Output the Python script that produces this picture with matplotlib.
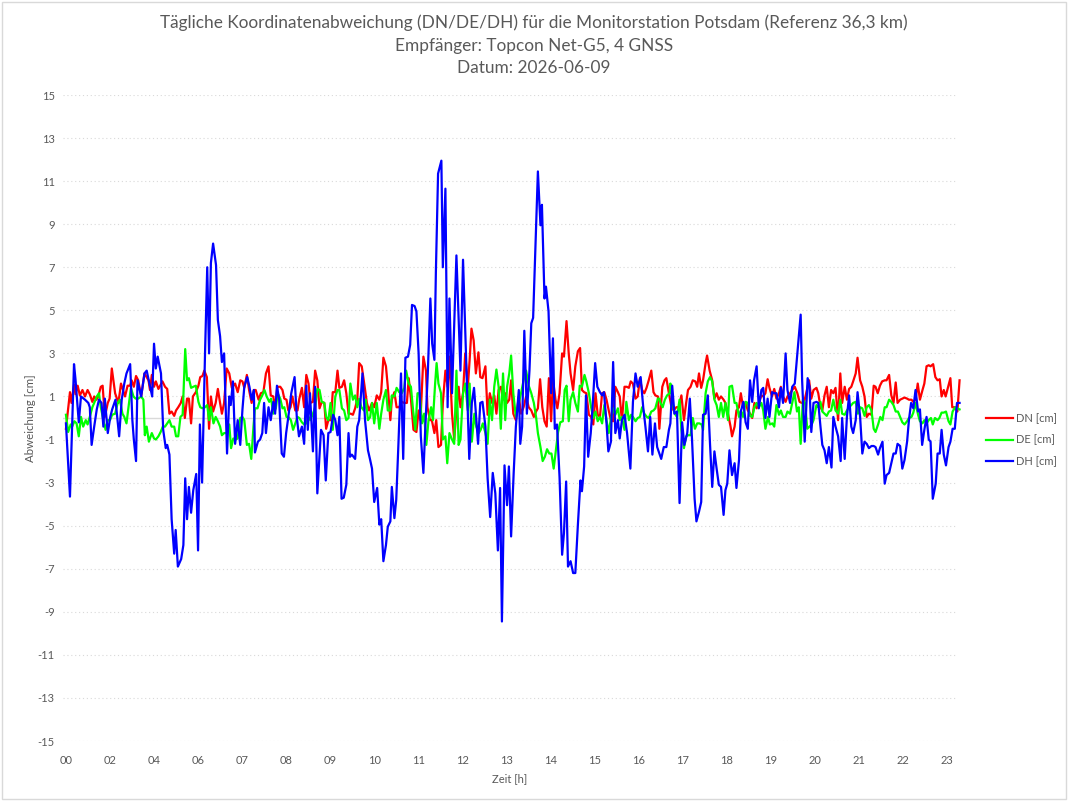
import matplotlib
matplotlib.use("Agg")
import matplotlib.pyplot as plt
import numpy as np

plt.rcParams['font.family'] = ['Lato', 'DejaVu Sans']

# x positions are in sample steps (12 steps per category label slot)
tick_labels = ['00', '02', '04', '06', '07', '08', '09', '10', '11', '12', '13',
               '14', '15', '16', '17', '18', '19', '20', '21', '22', '23']
tick_step = 12

DN = [(0.0,-0.5),(1.1,1.2),(1.5,0.7),(2.2,1.55),(2.6,1.1),(3.2,1.5),(3.8,1.05),(4.5,1.3),(5.2,1.0),(5.9,1.3),
      (6.5,1.1),(7.2,0.75),(7.7,1.0),(8.3,0.85),(8.8,1.0),(9.5,1.45),(10.0,1.5),(10.6,0.05),(11.4,0.7),(11.9,0.9),
      (12.5,2.3),(13.4,1.15),(14.3,0.7),(15.0,1.6),(16.1,1.0),(16.8,1.5),(17.5,1.5),(17.9,1.75),(18.5,1.45),(19.1,1.95),
      (19.7,1.75),(20.5,1.0),(21.4,2.07),(22.5,1.75),(22.9,1.3),(23.4,2.0),(24.0,1.45),(24.5,1.7),(25.2,1.35),(26.3,1.7),
      (27.0,1.45),(27.6,1.35),(28.2,0.2),(28.8,0.3),(29.5,0.1),(30.0,0.35),(30.6,0.5),(31.3,0.7),(31.8,1.0),(32.4,0.0),
      (33.0,0.9),(33.5,0.9),(34.1,-0.25),(34.6,1.0),(35.4,1.2),(36.1,1.5),(36.6,1.9),(37.2,1.95),(37.7,2.2),(38.4,1.9),
      (39.0,-0.5),
      (39.5,1.0),(40.1,0.3),(40.8,0.7),(41.4,1.35),(42.0,0.7),(42.5,0.2),(43.1,0.7),(43.8,2.3),(44.5,2.07),(45.2,1.4),
      (46.1,1.6),(46.8,1.2),(47.5,1.75),(48.1,1.7),(48.6,1.4),(49.3,2.0),(49.9,1.3),(50.6,0.7),(51.2,1.3),(51.7,1.3),
      (52.5,0.85),(53.1,1.15),(53.8,1.2),(54.5,2.07),(55.2,2.4),(55.8,1.05),(56.5,1.0),(57.0,0.45),(57.6,1.45),(58.4,1.45),
      (59.0,1.3),(59.5,0.9),(60.1,0.85),(60.6,0.35),(61.2,0.5),(61.7,1.0),(62.5,0.35),(63.1,0.35),(63.6,0.9),(64.3,1.4),
      (64.9,0.5),(65.5,2.0),(66.1,1.6),(66.6,0.7),(67.3,0.75),(67.9,2.2),(68.5,1.75),(69.1,0.45),(69.7,0.75),(70.4,0.7),
      (70.9,-0.5),(71.5,-0.1),(72.2,-0.1),(72.7,1.2),(73.4,1.2),(74.0,2.2),(74.5,1.4),(75.2,1.45),(75.8,1.75),(76.4,1.15),
      (77.0,0.2),(77.6,0.2),(78.2,0.15),(78.8,0.45),(79.4,0.9),(79.9,2.55),
      (80.6,2.4),(81.4,1.45),(82.0,0.7),(82.6,0.35),(83.4,0.7),(84.0,0.5),(84.7,1.05),(85.4,0.85),(85.9,1.2),(86.5,2.8),
      (87.2,2.4),(87.7,1.45),(88.4,-0.1),(88.8,0.85),(89.5,1.2),(90.1,0.5),(90.8,0.5),(91.5,0.75),(92.2,0.7),(92.9,0.7),
      (93.4,1.85),(94.0,0.9),(94.7,-0.55),(95.5,-0.65),(96.1,0.35),(96.6,-0.1),(97.4,2.85),(98.1,2.2),(98.5,0.5),(99.2,-0.1),
      (99.7,-0.1),(100.4,-0.7),(100.9,-0.1),(101.5,-1.35),(102.2,-1.25),(102.7,0.7),(103.4,2.2),(104.0,1.45),(104.5,2.85),(105.2,0.2),
      (105.8,-1.0),(106.4,0.35),(107.0,1.45),(107.5,0.5),(108.2,1.15),(108.8,3.0),(109.5,1.4),(110.0,2.7),(110.5,4.15),(111.1,3.6),
      (111.7,2.07),(112.4,3.05),(112.9,1.9),(113.5,1.85),(114.3,2.4),(114.9,0.15),(115.5,1.15),(116.1,0.7),(116.7,1.05),(117.3,0.2),
      (117.9,1.3),(118.5,1.45),(119.1,0.85),(119.7,1.15),
      (120.2,0.7),(120.8,0.85),(121.3,1.75),(121.9,0.2),(122.6,-0.1),(123.4,1.0),(124.0,0.2),(124.7,0.5),(125.4,1.0),(126.1,0.5),
      (126.8,0.35),(127.5,0.05),(128.1,0.3),(128.6,0.45),(129.2,1.8),(129.8,0.5),(130.4,-0.15),(131.0,-0.4),(131.6,1.85),(132.2,-0.15),
      (132.7,1.8),(133.4,0.85),(133.9,0.45),(134.5,1.15),(135.2,3.0),(135.7,2.85),(136.4,4.5),(137.0,3.0),(137.5,2.07),(138.2,1.3),
      (138.8,2.4),(139.5,3.1),(140.1,3.25),(140.6,1.3),(141.2,1.2),(141.8,1.15),(142.5,0.15),(143.1,0.05),(143.7,-0.3),(144.3,1.15),
      (144.9,0.15),(145.5,0.05),(146.1,1.15),(146.7,1.2),(147.3,0.85),(147.9,0.35),(148.5,-0.1),(149.1,-0.15),(149.7,1.45),(150.4,1.2),
      (150.9,1.0),(151.5,-0.15),(152.2,1.45),(152.8,1.45),(153.4,1.4),(153.9,1.7),(154.5,1.6),(155.2,0.9),(155.8,1.0),(156.4,1.85),
      (157.0,1.3),(157.6,1.15),(158.2,1.4),(158.8,1.75),(159.5,2.2),(160.1,1.2),(160.6,1.05),(161.3,1.0),(161.7,-0.5),
      (162.5,1.45),(163.1,1.75),(163.6,1.85),(164.3,1.15),(164.9,0.6),(165.6,0.35),(166.3,0.5),(167.0,0.5),(167.7,1.05),(168.4,-0.1),
      (169.0,0.7),(169.5,1.3),(170.2,1.45),(170.8,1.75),(171.5,1.7),(172.0,1.45),(172.5,2.07),(173.1,1.4),(173.6,1.75),(174.3,2.55),
      (174.7,2.9),(175.4,2.2),(176.1,1.75),(176.7,0.9),(177.3,1.15),(177.9,0.85),(178.5,1.0),(179.2,0.85),(179.7,0.7),(180.4,0.2),
      (181.1,-0.4),(181.5,-0.85),(182.2,-0.4),(182.7,0.35),(183.4,0.5),(183.9,1.15),(184.5,0.5),(185.2,0.7),(185.8,0.35),(186.4,0.2),
      (187.0,0.0),(187.6,0.7),(188.2,0.45),(188.8,0.7),(189.5,1.05),(190.0,1.0),(190.6,1.15),(191.2,1.8),(191.7,1.4),(192.4,1.0),
      (193.0,1.35),(193.6,0.9),(194.3,1.15),(194.8,1.45),(195.4,1.0),(196.1,0.75),(196.6,1.0),(197.3,1.15),(197.9,1.3),(198.6,1.45),
      (199.3,1.15),(199.9,0.75),(200.5,0.7),(201.1,0.7),(201.7,1.15),(202.5,1.75),
      (203.1,0.9),(203.7,1.3),(204.5,1.4),(205.0,1.15),(205.6,0.5),(206.1,0.35),(206.7,1.05),(207.3,1.45),(207.9,0.5),(208.5,1.3),
      (209.1,1.15),(209.7,1.4),(210.4,-0.1),(211.0,2.07),(211.5,0.7),(212.2,1.45),(212.8,0.85),(213.4,1.35),(214.0,1.45),(214.5,1.7),
      (215.2,2.07),(215.7,2.8),(216.4,1.75),(217.0,1.45),(217.6,1.0),(218.2,0.05),(218.8,0.2),(219.5,0.15),(220.1,1.5),(220.6,1.45),
      (221.2,1.15),(221.8,1.5),(222.4,1.7),(223.1,1.75),(223.6,1.75),(224.3,2.0),(224.9,1.05),(225.5,0.7),(226.1,1.65),(226.6,0.7),
      (227.3,0.85),(227.9,0.9),(228.5,0.95),(229.2,0.9),(229.7,0.85),(230.4,0.85),(230.9,0.75),(231.5,0.85),(232.1,1.6),(232.7,0.85),
      (233.4,1.3),(233.9,1.6),(234.5,2.4),(235.1,2.45),(235.6,2.4),(236.3,2.5),(236.9,1.9),(237.5,1.75),(238.1,1.8),(238.6,1.0),
      (239.2,1.3),(239.7,1.0),(240.4,1.45),(241.0,1.85),(241.5,0.5),(242.2,0.5),(242.9,0.3),(243.5,1.75)]

DE = [(0.0,0.15),(0.6,-0.65),(1.3,-0.3),(1.7,-0.4),(2.3,-0.15),(2.9,-0.25),(3.5,-0.85),(4.1,0.05),(4.7,-0.4),(5.4,-0.1),
      (5.9,-0.3),(6.5,0.05),(7.2,0.5),(7.7,0.7),(8.4,1.0),(9.0,1.15),(9.5,0.5),(10.2,-0.1),(10.8,-0.55),(11.4,-0.1),
      (12.0,-0.1),(12.6,0.15),(13.4,0.2),(14.1,0.7),(14.7,0.85),(15.4,0.2),(15.9,0.05),(16.5,-0.25),(17.2,0.7),(17.7,1.4),
      (18.4,1.0),(19.0,0.9),(19.7,0.9),(20.5,1.0),(21.1,0.85),(21.5,-0.8),(22.0,-0.4),(22.6,-1.1),(23.4,-0.7),(24.0,-0.95),
      (24.5,-1.0),(25.2,-0.85),(25.8,-0.65),(26.4,-0.4),(27.0,-0.4),(27.6,-0.25),(28.2,-0.1),(28.8,-0.4),(29.5,-0.4),(30.0,-0.85),
      (30.6,-0.85),(31.2,0.05),(31.8,0.15),(32.5,3.2),(33.0,1.75),(33.5,1.85),(34.1,1.4),(34.7,1.45),(35.4,1.5),(36.1,0.75),
      (36.6,0.5),(37.2,0.45),(37.9,0.5),(38.5,0.6),(39.0,-0.1),
      (39.5,0.5),(40.2,-0.25),(40.8,0.05),(41.4,-0.15),(42.0,-0.4),(42.5,-0.8),(43.1,-0.7),(43.8,-0.7),(44.5,-0.3),(45.0,-1.4),
      (45.6,-0.95),(46.3,-1.0),(46.8,-0.95),(47.5,0.0),(48.1,0.05),(48.6,-0.1),(49.3,-1.25),(49.9,-1.2),(50.5,-1.9),(51.1,-0.4),
      (51.5,0.45),(52.2,0.45),(52.9,0.85),(53.5,1.05),(54.1,1.3),(54.7,1.0),(55.4,0.75),(55.9,0.9),(56.5,0.2),(57.2,0.45),
      (57.7,1.15),(58.4,0.9),(59.0,0.45),(59.5,0.5),(60.1,0.05),(60.6,0.05),(61.3,-0.1),(61.9,-0.55),(62.5,-0.25),(63.1,0.05),
      (63.6,0.0),(64.3,-0.2),(64.9,-0.3),(65.5,-0.25),(66.1,0.05),(66.6,-0.1),(67.3,0.2),(67.9,0.5),(68.5,1.35),(69.1,1.3),
      (69.7,0.75),(70.4,0.7),(70.9,0.05),(71.5,-0.1),(72.1,0.7),(72.7,-0.55),(73.4,1.0),(74.0,1.3),(74.5,1.3),(75.2,0.45),
      (75.8,0.35),(76.4,-0.1),(77.0,0.0),(77.5,1.6),(78.2,0.85),(78.8,1.05),(79.4,0.5),(79.9,0.9),
      (80.5,0.5),(81.2,0.35),(81.7,0.85),(82.3,-0.1),(82.9,0.05),(83.4,0.7),(84.0,-0.25),(84.7,0.7),(85.4,-0.5),(85.9,0.2),
      (86.5,0.85),(87.2,1.3),(87.7,0.35),(88.4,0.35),(88.8,1.05),(89.5,1.0),(90.1,1.4),(90.8,1.2),(91.5,1.15),(92.2,1.4),
      (92.7,2.2),(93.4,1.6),(94.0,1.45),(94.6,0.35),(95.2,-0.55),(95.8,1.15),(96.4,1.15),(97.0,-0.25),(97.6,0.2),(98.2,-1.25),
      (98.8,-0.1),(99.5,0.5),(100.0,-0.1),(100.6,1.6),(101.0,2.55),(101.5,1.6),(102.2,1.15),(102.7,-1.0),(103.4,-0.85),(103.9,-2.1),
      (104.5,-0.7),(105.2,-1.0),(105.8,-1.2),(106.4,2.2),(107.0,-1.25),(107.5,-1.0),(108.2,1.15),(108.8,1.6),(109.5,0.35),(110.0,1.6),
      (110.6,-1.1),(111.3,0.2),(111.8,-0.4),(112.5,-0.7),(113.0,-0.55),(113.6,-0.25),(114.3,-0.7),(114.9,-1.2),(115.5,0.85),(116.1,-0.1),
      (116.7,1.45),(117.3,2.25),(117.9,1.45),(118.5,-0.5),(119.1,2.07),(119.7,-0.1),
      (120.2,1.45),(120.8,2.07),(121.3,2.9),(121.9,1.15),(122.6,0.05),(123.4,0.7),(124.0,1.15),(124.7,1.75),(125.4,2.2),(126.1,1.5),
      (126.8,1.15),(127.5,0.7),(128.1,0.05),(128.6,-0.7),(129.3,-1.35),(129.9,-2.0),(130.5,-1.8),(131.1,-1.45),(131.7,-1.65),(132.3,-1.65),
      (132.9,-2.35),(133.6,-1.35),(134.1,-0.65),(134.7,-0.2),(135.4,-0.15),(135.9,1.3),(136.4,1.5),(137.0,-0.15),(137.5,0.85),(138.2,1.2),
      (138.8,0.7),(139.5,0.3),(140.0,1.5),(140.6,1.45),(141.3,2.0),(141.8,1.7),(142.5,1.15),(143.1,0.5),(143.7,0.0),(144.3,0.3),
      (144.9,-0.15),(145.5,0.05),(146.1,-0.25),(146.7,0.6),(147.3,-0.1),(147.9,-0.7),(148.5,0.0),(149.2,0.45),(149.7,0.15),(150.4,0.45),
      (150.9,-0.1),(151.5,0.05),(152.2,-0.55),(152.7,0.75),(153.4,-0.1),(154.0,0.15),(154.5,0.05),(155.2,-0.15),(155.8,0.0),(156.4,0.05),
      (157.0,0.5),(157.6,0.2),(158.3,0.05),(158.8,0.0),(159.5,0.3),(160.1,0.35),(160.6,0.45),(161.3,0.9),(161.7,0.9),
      (162.0,0.7),(162.6,0.5),(163.2,0.85),(163.8,1.05),(164.5,1.15),(164.7,1.6),(165.4,0.6),(165.9,0.2),(166.5,0.05),(167.2,0.85),
      (167.7,-0.55),(168.4,-1.4),(169.0,-0.85),(169.5,-0.8),(170.2,-0.8),(170.8,0.0),(171.4,-0.5),(172.0,-0.25),(172.6,-0.25),(173.2,-0.3),
      (173.6,-0.55),(174.3,1.15),(174.9,1.7),(175.5,1.9),(176.1,1.7),(176.7,0.85),(177.3,0.6),(177.9,0.05),(178.5,0.7),(179.1,0.05),
      (179.7,0.7),(180.4,-0.1),(180.8,1.45),(181.5,1.5),(182.2,0.7),(182.7,0.7),(183.4,0.05),(183.9,0.35),(184.5,0.05),(185.2,0.75),
      (185.8,0.7),(186.4,0.1),(187.0,0.05),(187.6,0.5),(188.2,0.7),(188.8,0.5),(189.5,0.7),(190.0,0.35),(190.6,-0.5),(191.3,0.05),
      (191.8,-0.3),(192.5,-0.25),(193.0,-0.4),(193.6,0.6),(194.3,0.15),(194.8,0.35),(195.4,0.05),(196.1,0.05),(196.6,0.3),(197.3,0.2),
      (197.9,0.7),(198.5,1.2),(199.2,0.3),(199.7,0.5),(200.2,-1.2),(200.8,0.85),(201.4,0.7),(202.0,-0.5),(202.6,-0.4),
      (203.2,-0.3),(203.7,-0.1),(204.5,0.6),(205.0,0.5),(205.6,0.75),(206.1,0.3),(206.7,0.2),(207.3,0.1),(207.9,0.3),(208.5,0.35),
      (209.1,0.85),(209.7,0.35),(210.4,0.2),(211.0,0.85),(211.5,0.2),(212.2,0.15),(212.8,0.35),(213.4,0.5),(214.0,0.6),(214.5,0.7),
      (215.2,0.75),(215.8,0.2),(216.4,0.5),(217.0,0.45),(217.6,0.1),(218.2,0.5),(218.8,0.6),(219.5,0.35),(220.1,-0.5),(220.6,-0.65),
      (221.3,-0.3),(221.9,0.05),(222.5,-0.1),(223.1,0.5),(223.6,0.5),(224.3,0.85),(224.9,0.75),(225.5,0.6),(226.1,0.3),(226.7,0.3),
      (227.3,0.05),(227.9,-0.2),(228.5,-0.3),(229.2,-0.15),(229.7,0.0),(230.4,0.05),(230.9,0.25),(231.5,0.7),(232.2,0.15),(232.7,-0.15),
      (233.4,-0.25),(233.9,-0.1),(234.5,-0.25),(235.1,-0.1),(235.7,0.0),(236.2,-0.3),(236.8,0.0),(237.5,-0.1),(238.0,0.0),(238.6,0.25),
      (239.2,0.25),(239.8,0.3),(240.5,-0.15),(241.0,-0.3),(241.6,0.3),(242.3,0.5),(242.9,0.45),(243.5,0.4)]

DH = [(0.0,-0.25),(1.1,-3.65),(2.2,2.5),(2.6,1.8),(3.5,-0.2),(4.1,1.0),(5.2,0.85),(6.1,0.7),(6.5,0.5),(7.0,-1.25),
      (7.7,-0.4),(8.4,0.4),(9.0,0.85),(9.7,0.7),(10.2,-0.4),(10.6,0.9),(11.4,-0.7),(12.1,0.06),(12.6,0.4),(13.5,0.85),
      (14.5,-0.85),(15.2,0.85),(15.9,1.6),(16.5,2.07),(17.5,2.5),(18.1,-0.1),(18.5,-1.0),(19.1,-2.0),(19.5,1.75),(20.5,1.0),
      (21.4,2.07),(22.0,2.2),(23.5,1.0),(24.0,3.45),(24.5,2.3),(25.0,2.85),(25.9,2.07),(26.5,-0.55),(27.2,-1.4),(27.6,-1.25),
      (28.2,-1.7),(28.8,-4.7),(29.5,-6.3),(29.9,-5.2),(30.5,-6.9),(31.4,-6.55),(32.0,-5.9),(32.5,-2.8),(33.0,-4.7),(33.5,-3.2),
      (34.1,-4.4),(34.7,-3.35),(35.5,-2.6),(36.0,-6.15),(36.5,-0.3),(37.1,-3.0),(37.9,3.0),(38.5,7.0),(39.0,3.0),
      (39.5,7.2),(40.1,8.1),(40.9,7.1),(41.4,4.55),(42.0,3.8),(42.5,2.6),(43.1,3.0),(43.9,-1.65),(44.5,1.0),(44.9,0.6),
      (45.5,1.7),(46.1,-1.2),(46.8,-0.1),(47.5,-1.25),(48.1,0.4),(48.6,1.45),(49.4,1.9),(50.0,1.45),(50.6,0.85),(51.2,1.3),
      (51.5,-1.6),(52.3,-1.1),(52.9,-1.0),(53.5,-0.7),(54.0,0.7),(54.5,-0.7),(55.2,0.5),(55.8,-0.1),(56.5,0.75),(57.0,0.2),
      (57.5,1.5),(58.1,0.85),(58.8,-1.65),(59.4,-1.8),(60.0,-0.7),(60.6,0.05),(61.4,1.15),(62.3,1.9),(62.9,0.05),(63.5,-0.85),
      (64.3,-0.4),(64.9,-1.2),(65.5,1.5),(65.9,-0.55),(66.5,1.15),(67.3,-1.55),(67.9,1.45),(68.5,-3.5),(69.5,-0.55),(70.2,-0.8),
      (70.8,-2.9),(71.5,-0.7),(72.1,-0.65),(72.8,0.15),(73.4,-0.1),(74.0,-0.8),(74.5,0.05),(75.1,-3.75),(75.7,-3.7),(76.4,-3.1),
      (77.0,-0.7),(77.4,-1.8),(77.9,-1.7),(78.8,-1.9),(79.4,-0.4),(79.9,-0.1),
      (80.8,2.07),(81.5,-0.1),(82.3,-1.5),(82.9,-1.95),(83.4,-2.35),(84.0,-3.9),(84.8,-3.25),(85.4,-4.95),(85.9,-4.7),(86.5,-6.65),
      (87.2,-5.9),(87.7,-5.05),(88.4,-4.8),(88.8,-3.2),(89.5,-4.65),(90.0,-3.8),(90.6,-1.2),(91.3,2.07),(91.9,-1.9),(92.5,2.8),
      (93.2,2.85),(93.8,3.4),(94.3,5.25),(95.0,5.2),(95.5,4.95),(96.1,3.0),(96.7,-0.85),(97.4,-2.55),(97.9,-0.55),(98.6,2.07),
      (99.3,5.55),(99.8,3.45),(100.4,2.7),(100.8,6.75),(101.4,11.35),(102.3,11.95),(102.7,7.0),(103.4,10.65),(104.0,0.5),(104.5,5.55),
      (105.2,1.15),(106.4,7.55),(107.5,2.2),(108.2,7.35),(109.3,1.45),(109.9,-1.9),(110.6,0.7),(111.2,1.4),(111.7,0.2),(112.3,-1.2),
      (112.9,0.7),(113.5,0.75),(114.3,-0.4),(114.9,-2.8),(115.6,-4.6),(116.3,-2.55),(117.0,-3.5),(117.7,-6.15),(118.3,-3.25),(118.8,-9.45),
      (119.5,-2.2),(120.2,-4.05),(120.7,-2.25),
      (121.3,-5.5),(122.0,-2.55),(122.6,-0.4),(123.4,1.3),(123.8,-1.2),(124.3,-0.4),(124.9,4.05),(125.6,0.2),(126.3,2.2),(126.8,4.4),
      (127.3,4.65),(127.9,7.8),(128.6,11.45),(129.3,8.95),(129.7,9.9),(130.4,5.55),(130.8,6.1),(131.5,4.95),(132.2,1.15),(132.7,3.7),
      (133.2,-0.5),(133.8,-0.3),(134.5,-2.75),(135.2,-6.35),(135.7,-5.35),(136.3,-2.95),(136.8,-6.9),(137.5,-6.65),(138.2,-7.2),(138.8,-7.2),
      (139.5,-4.95),(140.2,-2.9),(140.6,-3.4),(141.2,-2.25),(141.7,1.05),(142.3,-1.8),(143.0,-0.7),(143.5,0.5),(144.2,2.55),(144.8,1.45),
      (145.5,1.2),(146.1,1.05),(146.6,1.2),(147.3,-0.25),(147.8,-1.55),(148.5,-1.1),(149.1,2.6),(149.7,-0.7),(150.4,-0.1),(150.9,-0.95),
      (151.5,-0.1),(152.2,0.15),(152.9,-0.7),(153.8,-2.35),(154.5,0.75),(155.2,2.07),(155.8,1.45),(156.6,1.9),(157.3,0.5),(157.9,-0.4),
      (158.6,-1.55),(159.2,0.05),(159.8,-1.7),(160.5,-0.25),(161.1,-1.35),
      (161.4,-1.5),(162.2,-1.9),(162.9,-1.35),(163.6,-1.35),(164.3,-0.55),(164.7,-0.25),(165.2,1.5),(165.8,0.2),(166.5,0.3),(167.2,-3.95),
      (167.9,-0.2),(168.5,-1.25),(169.3,-0.7),(170.0,0.9),(170.6,-1.0),(171.3,-3.75),(171.8,-4.8),(172.5,-4.35),(173.1,-3.9),(173.6,0.15),
      (174.3,0.2),(174.9,1.05),(175.5,-1.2),(176.1,-3.2),(176.7,-1.55),(177.3,-2.35),(177.9,-3.1),(178.5,-3.2),(179.2,-4.5),(179.7,-3.35),
      (180.2,-3.05),(180.8,-1.5),(181.5,-2.65),(182.2,-2.1),(182.7,-3.25),(183.4,-1.95),(183.9,0.3),(184.6,0.75),(185.2,-0.2),(185.8,-0.5),
      (186.4,1.75),(187.0,0.75),(187.5,1.75),(188.2,2.4),(188.8,0.45),(189.5,1.3),(190.0,1.4),(190.6,0.0),(191.2,0.9),(191.7,0.05),
      (192.4,1.2),(193.0,1.15),(193.6,1.15),(194.3,0.5),(194.8,1.4),(195.4,0.7),(196.1,3.0),(196.6,1.3),(197.3,0.7),(197.9,1.45),
      (198.6,1.6),(199.3,3.0),(200.2,4.8),(200.6,1.75),(201.3,-1.1),(202.1,1.85),
      (202.6,1.45),(203.1,-0.65),(203.7,0.7),(204.5,0.75),(205.0,0.7),(205.6,-0.4),(206.1,-1.25),(206.7,-1.5),(207.3,-2.1),(207.9,-1.35),
      (208.6,-2.3),(209.1,0.05),(209.7,-0.4),(210.4,-0.85),(211.1,-2.0),(211.5,0.0),(212.2,-1.9),(212.8,0.05),(213.4,1.05),(214.0,-0.4),
      (214.5,-0.7),(215.2,-0.1),(215.7,1.2),(216.4,0.05),(217.0,-1.65),(217.6,-1.1),(218.2,-1.2),(218.8,-1.4),(219.5,-1.3),(220.1,-1.3),
      (220.6,-1.35),(221.3,-1.7),(221.8,-1.4),(222.5,-1.1),(223.1,-3.05),(223.6,-2.65),(224.3,-2.55),(224.9,-2.1),(225.5,-1.65),(226.1,-1.65),
      (226.6,-1.2),(227.3,-1.3),(227.9,-2.35),(228.5,-1.95),(229.2,-1.1),(229.7,-0.1),(230.3,0.7),(230.9,0.45),(231.5,1.3),(232.2,0.3),
      (232.7,0.4),(233.3,-1.25),(233.9,-0.55),(234.5,0.05),(235.1,-1.0),(235.6,-1.1),(236.2,-3.75),(237.0,-3.05),(237.5,-1.65),(238.1,-1.65),
      (238.6,-0.55),(239.2,-1.7),(239.8,-2.2),(240.5,-1.35),(241.0,-1.1),(241.6,-0.5),(242.2,-0.5),(242.8,0.7),(243.5,0.7)]

series_names = ['DN [cm]', 'DE [cm]', 'DH [cm]']
series_colors = ['#FF0000', '#00FF00', '#0000FF']
y_ticks = list(range(-15, 16, 2))

title_lines = ['Tägliche Koordinatenabweichung (DN/DE/DH) für die Monitorstation Potsdam (Referenz 36,3 km)',
               'Empfänger: Topcon Net-G5, 4 GNSS',
               'Datum: 2026-06-09']

W, H = 1068, 801
fig = plt.figure(figsize=(W / 100, H / 100), dpi=100)
ax = fig.add_axes([63 / W, 1 - 741 / H, (957 - 63) / W, (741 - 95) / H])

txt_col = '#595959'
grid_col = '#D9D9D9'

for yv in y_ticks:
    ax.axhline(yv, color=grid_col, lw=0.8, ls=(0, (1, 2.5)), zorder=0)
ax.axhline(0, color=grid_col, lw=1.0, zorder=1)

for data, name, col in zip([DN, DE, DH], series_names, series_colors):
    t, v = zip(*data)
    ax.plot(t, v, color=col, lw=1.6, label=name, solid_joinstyle='round', clip_on=False, zorder=3)

ax.set_ylim(-15, 15)
ax.set_xlim(-0.8, 242.8)
ax.set_yticks(y_ticks)
ax.set_yticklabels([str(y) for y in y_ticks])
ax.set_xticks(np.arange(len(tick_labels)) * tick_step)
ax.set_xticklabels(tick_labels)
ax.tick_params(axis='both', length=0, colors=txt_col, labelsize=8)
ax.tick_params(axis='x', pad=10)
ax.tick_params(axis='y', pad=6)
for s in ax.spines.values():
    s.set_visible(False)

ax.set_xlabel('Zeit [h]', color=txt_col, fontsize=8, labelpad=5)
ax.set_ylabel('Abweichung [cm]', color=txt_col, fontsize=8.3, labelpad=1)

for k, line in enumerate(title_lines):
    fig.text(0.5, 1 - (23 + 22.5 * k) / H, line, ha='center', va='center', fontsize=12.4, color=txt_col)

handles, labels = ax.get_legend_handles_labels()
fig.legend(handles, labels, loc='center left', bbox_to_anchor=(976 / W, 1 - 440 / H), frameon=False,
           fontsize=8, handlelength=2.4, labelspacing=0.95, handletextpad=0.3, labelcolor=txt_col)

fig.patches.append(plt.Rectangle((0.0015, 0.002), 0.997, 0.996, transform=fig.transFigure,
                                 fill=False, edgecolor='#D9D9D9', lw=1.0))

fig.savefig('out.png', dpi=100)
